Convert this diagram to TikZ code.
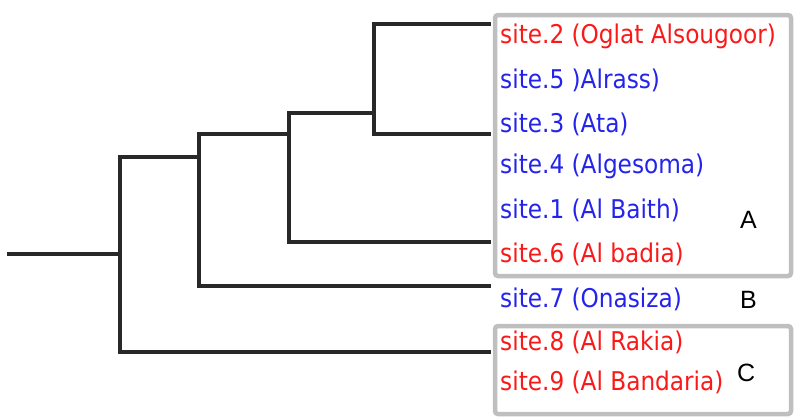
\documentclass[tikz,border=0pt]{standalone}
\usepackage{fontspec}
\setmainfont{DejaVu Sans Condensed}
\newfontfamily\grpfont{Liberation Sans}
\definecolor{sred}{RGB}{250,25,25}
\definecolor{sblue}{RGB}{35,35,235}
\definecolor{tree}{RGB}{40,40,40}
\begin{document}
\begin{tikzpicture}[x=1pt,y=-1pt,
  branch/.style={draw=tree,line width=3.2pt,line cap=rect},
  grp/.style={draw=gray!50,line width=4.5pt,rounded corners=3pt},
  site/.style={anchor=base west,inner sep=0pt,font=\fontsize{25.8}{28}\selectfont},
  rs/.style={site,text=sred},
  bs/.style={site,text=sblue},
  grplabel/.style={anchor=base west,inner sep=0pt,font=\grpfont\fontsize{25}{28}\selectfont}]
\useasboundingbox (0,0) rectangle (796,416);
% groups
\draw[grp] (495,15) rectangle (791,276);
\draw[grp] (495,326) rectangle (791,414);
% labels
\node[rs] (s2) at (500,43) {site.2 (Oglat Alsougoor)};
\node[bs] (s5) at (500,88) {site.5 )Alrass)};
\node[bs] (s3) at (500,132) {site.3 (Ata)};
\node[bs] (s4) at (500,173) {site.4 (Algesoma)};
\node[bs] (s1) at (500,218) {site.1 (Al Baith)};
\node[rs] (s6) at (500,262) {site.6 (Al badia)};
\node[bs] (s7) at (500,307) {site.7 (Onasiza)};
\node[rs] (s8) at (500,350) {site.8 (Al Rakia)};
\node[rs] (s9) at (500,390) {site.9 (Al Bandaria)};
\node[grplabel] (gA) at (740,228) {A};
\node[grplabel] (gB) at (740,308) {B};
\node[grplabel] (gC) at (737,381) {C};
% tree coordinates
\coordinate (a2) at (489,24);
\coordinate (a3) at (489,134);
\coordinate (a6) at (489,242);
\coordinate (a7) at (489,286);
\coordinate (aC) at (489,352);
\coordinate (j1) at (374,113);
\coordinate (j2) at (289,134);
\coordinate (j3) at (199,157);
\coordinate (j4) at (120,254);
\coordinate (root) at (9,254);
\draw[branch] (a2) -| (j1) |- (a3);
\draw[branch] (j1) -| (j2) |- (a6);
\draw[branch] (j2) -| (j3) |- (a7);
\draw[branch] (j3) -| (j4) |- (aC);
\draw[branch] (root) -- (j4);
\end{tikzpicture}
\end{document}
